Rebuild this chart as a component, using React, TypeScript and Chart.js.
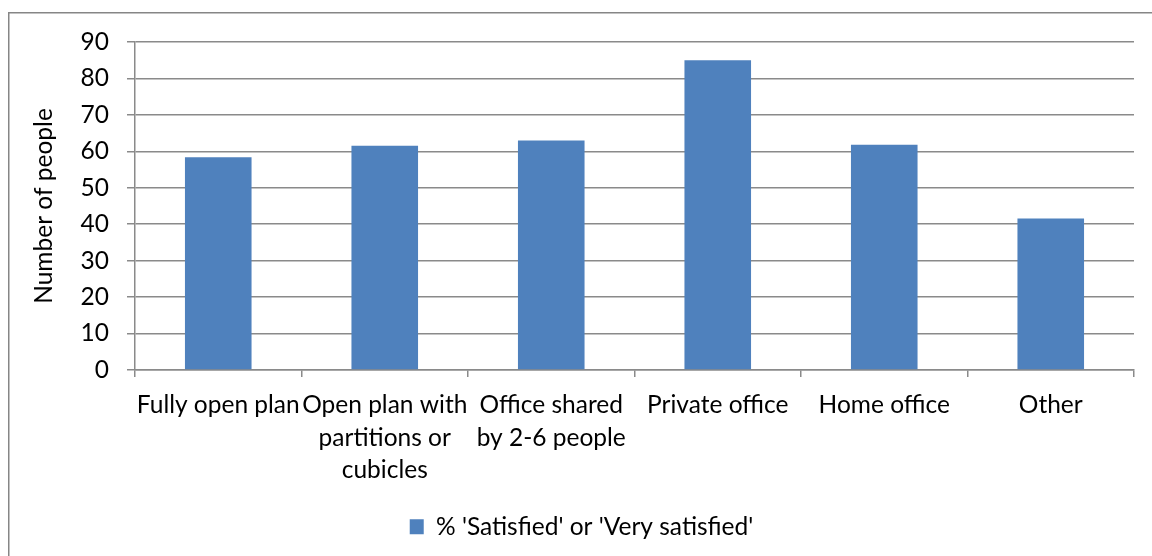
import React, { useEffect, useRef } from "react";
import { Chart, registerables } from "chart.js";

Chart.register(...registerables);

const categories: (string | string[])[] = [
  "Fully open plan",
  ["Open plan with", "partitions or", "cubicles"],
  ["Office shared", "by 2-6 people"],
  "Private office",
  "Home office",
  "Other",
];
const seriesLabel = "% 'Satisfied' or 'Very satisfied'";
const satisfied = [58.4, 61.5, 63.0, 85.0, 61.8, 41.6];
const yTicks = [0, 10, 20, 30, 40, 50, 60, 70, 80, 90];

const FONT = "Lato, 'Open Sans', sans-serif";
const GRID = "#8a8a8a";

const frame = {
  id: "frame",
  beforeDraw(chart: any) {
    const ctx = chart.ctx;
    ctx.save();
    ctx.fillStyle = "#ffffff";
    ctx.fillRect(0, 0, chart.width, chart.height);
    ctx.strokeStyle = "#868686";
    ctx.lineWidth = 1.5;
    ctx.beginPath();
    ctx.moveTo(8.75, chart.height + 5);
    ctx.lineTo(8.75, 12.75);
    ctx.lineTo(chart.width + 5, 12.75);
    ctx.stroke();
    ctx.restore();
  },
};

export default function App() {
  const ref = useRef<HTMLCanvasElement>(null);
  useEffect(() => {
    const chart = new Chart(ref.current!, {
      type: "bar",
      data: {
        labels: categories as any,
        datasets: [
          {
            label: seriesLabel,
            data: satisfied,
            backgroundColor: "#4F81BD",
            borderWidth: 0,
            barPercentage: 0.4,
            categoryPercentage: 1,
          },
        ],
      },
      plugins: [frame],
      options: {
        animation: false,
        responsive: false,
        events: [],
        layout: { padding: { left: 29, right: 18, top: 42, bottom: 7 } },
        plugins: {
          tooltip: { enabled: false },
          legend: {
            position: "bottom",
            labels: {
              boxWidth: 14,
              boxHeight: 15,
              padding: 10,
              color: "#000",
              font: { family: FONT, size: 24.5 },
            },
          },
        },
        scales: {
          x: {
            afterFit: (s: any) => {
              s.height = 134.5;
            },
            grid: {
              drawOnChartArea: false,
              drawTicks: true,
              tickLength: 7,
              color: GRID,
              lineWidth: 1.5,
            },
            border: { display: true, color: GRID, width: 1.5 },
            ticks: {
              color: "#000",
              padding: 12,
              maxRotation: 0,
              autoSkip: false,
              font: { family: FONT, size: 24.5, lineHeight: 1.33 },
            },
          },
          y: {
            min: 0,
            max: 90,
            afterFit: (s: any) => {
              s.width = 106;
            },
            afterBuildTicks: (s: any) => {
              s.ticks = yTicks.map((v) => ({ value: v }));
            },
            grid: {
              color: GRID,
              lineWidth: 1.5,
              tickLength: 8,
            },
            border: { display: true, color: GRID, width: 1.5 },
            ticks: {
              color: "#000",
              padding: 18,
              font: { family: FONT, size: 24.5 },
            },
            title: {
              display: true,
              text: "Number of people",
              color: "#000",
              padding: 0,
              font: { family: FONT, size: 24.5 },
            },
          },
        },
      },
    });
    return () => chart.destroy();
  }, []);
  return (
    <div style={{ position: "fixed", left: 0, top: 0, width: 1152, height: 556, background: "#fff" }}>
      <canvas ref={ref} width={1152} height={556} style={{ display: "block" }} />
    </div>
  );
}
